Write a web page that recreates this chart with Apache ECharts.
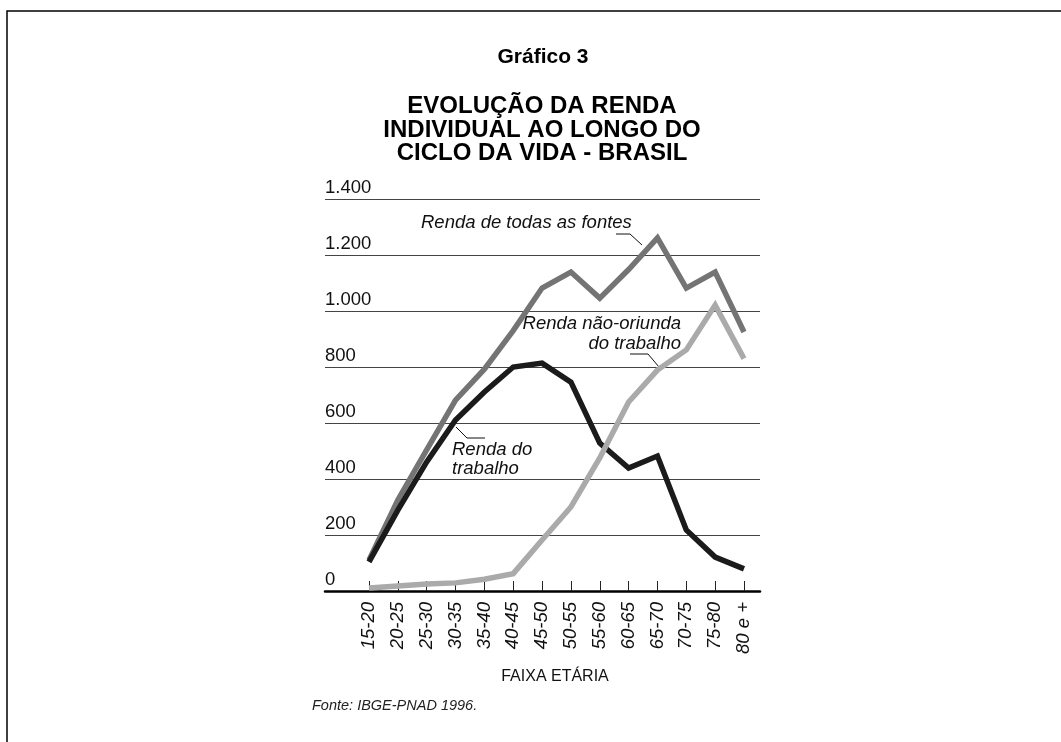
<!DOCTYPE html>
<html>
<head>
<meta charset="utf-8">
<script src="https://cdn.jsdelivr.net/npm/echarts@6/dist/echarts.min.js"></script>
<style>
html,body{margin:0;padding:0;background:#fff;}
#chart{width:1061px;height:742px;}
</style>
</head>
<body>
<div id="chart"></div>
<script>
const categories = ['15-20','20-25','25-30','30-35','35-40','40-45','45-50','50-55','55-60','60-65','65-70','70-75','75-80','80 e +'];
const rendaTodas = [110, 325, 504, 682, 792, 930, 1082, 1139, 1046, 1148, 1261, 1082, 1139, 925];
const rendaTrabalho = [104, 289, 461, 611, 711, 800, 814, 746, 528, 439, 482, 218, 121, 79];
const rendaNaoTrabalho = [11, 18, 25, 29, 42, 62, 182, 300, 475, 675, 789, 861, 1021, 830];
const yTicks = [0, 200, 400, 600, 800, 1000, 1200, 1400];

const FONT = 'Liberation Sans, Arial, sans-serif';
const idx = categories.map((c, i) => i);
const toPairs = arr => arr.map((v, i) => [i, v]);
const fmtY = v => (v >= 1000 ? String(v).replace(/(\d)(\d{3})$/, '$1.$2') : String(v));

const chart = echarts.init(document.getElementById('chart'));
const option = {
  backgroundColor: '#fff',
  animation: false,
  grid: { left: 325, right: 301, top: 199, bottom: 151 },
  xAxis: {
    type: 'value',
    min: -1.525,
    max: 13.555,
    splitLine: { show: false },
    axisLine: { show: true, onZero: false, lineStyle: { color: '#000', width: 2.5 } },
    axisTick: { show: true, inside: true, length: 10, customValues: idx, lineStyle: { color: '#222', width: 1 } },
    axisLabel: {
      customValues: idx,
      rotate: 90,
      margin: 11,
      fontFamily: FONT,
      fontStyle: 'italic',
      fontSize: 18.5,
      color: '#111',
      formatter: v => categories[Math.round(v)]
    }
  },
  yAxis: {
    type: 'value',
    min: 0,
    max: 1400,
    interval: 200,
    axisLine: { show: false },
    axisTick: { show: false },
    splitLine: { show: true, lineStyle: { color: '#444', width: 1 } },
    axisLabel: {
      inside: true,
      margin: 0,
      verticalAlign: 'bottom',
      padding: [0, 0, 2, 0],
      fontFamily: FONT,
      fontSize: 18.5,
      color: '#111',
      formatter: v => fmtY(v)
    }
  },
  series: [
    {
      name: 'Renda de todas as fontes', type: 'line', data: toPairs(rendaTodas),
      symbol: 'none', z: 2,
      lineStyle: { color: '#747474', width: 5.5, join: 'miter' }
    },
    {
      name: 'Renda do trabalho', type: 'line', data: toPairs(rendaTrabalho),
      symbol: 'none', z: 3,
      lineStyle: { color: '#1b1b1b', width: 5.5, join: 'miter' }
    },
    {
      name: 'Renda não-oriunda do trabalho', type: 'line', data: toPairs(rendaNaoTrabalho),
      symbol: 'none', z: 4,
      lineStyle: { color: '#aaaaaa', width: 5.5, join: 'miter' }
    }
  ],
  graphic: [
    // frame
    { type: 'polyline', shape: { points: [[7, 742], [7, 11], [1061, 11]] }, style: { stroke: '#000', lineWidth: 1.5, fill: null } },
    // titles
    { type: 'text', x: 543, y: 57, style: { text: 'Gráfico 3', font: 'bold 21px ' + FONT, fill: '#000', align: 'center', verticalAlign: 'middle' } },
    { type: 'text', x: 542, y: 106, style: { text: 'EVOLUÇÃO DA RENDA', font: 'bold 24px ' + FONT, fill: '#000', align: 'center', verticalAlign: 'middle' } },
    { type: 'text', x: 542, y: 130, style: { text: 'INDIVIDUAL AO LONGO DO', font: 'bold 24px ' + FONT, fill: '#000', align: 'center', verticalAlign: 'middle' } },
    { type: 'text', x: 542, y: 153, style: { text: 'CICLO DA VIDA - BRASIL', font: 'bold 24px ' + FONT, fill: '#000', align: 'center', verticalAlign: 'middle' } },
    // annotations
    { type: 'text', x: 421, y: 223, style: { text: 'Renda de todas as fontes', font: 'italic 18.5px ' + FONT, fill: '#111', align: 'left', verticalAlign: 'middle' } },
    { type: 'polyline', shape: { points: [[616, 234], [630, 234], [642, 245]] }, style: { stroke: '#111', lineWidth: 1, fill: null } },
    { type: 'text', x: 681, y: 324, style: { text: 'Renda não-oriunda', font: 'italic 18.5px ' + FONT, fill: '#111', align: 'right', verticalAlign: 'middle' } },
    { type: 'text', x: 681, y: 344, style: { text: 'do trabalho', font: 'italic 18.5px ' + FONT, fill: '#111', align: 'right', verticalAlign: 'middle' } },
    { type: 'polyline', shape: { points: [[630, 354], [648, 354], [659, 367]] }, style: { stroke: '#111', lineWidth: 1, fill: null } },
    { type: 'text', x: 452, y: 450, style: { text: 'Renda do', font: 'italic 18.5px ' + FONT, fill: '#111', align: 'left', verticalAlign: 'middle' } },
    { type: 'text', x: 452, y: 469, style: { text: 'trabalho', font: 'italic 18.5px ' + FONT, fill: '#111', align: 'left', verticalAlign: 'middle' } },
    { type: 'polyline', shape: { points: [[456, 427], [467, 438], [485, 438]] }, style: { stroke: '#111', lineWidth: 1, fill: null } },
    // axis title and source
    { type: 'text', x: 555, y: 677, style: { text: 'FAIXA ETÁRIA', font: '16px ' + FONT, fill: '#111', align: 'center', verticalAlign: 'middle' } },
    { type: 'text', x: 312, y: 706, style: { text: 'Fonte: IBGE-PNAD 1996.', font: 'italic 14.5px ' + FONT, fill: '#222', align: 'left', verticalAlign: 'middle' } }
  ]
};
chart.setOption(option);
</script>
</body>
</html>
